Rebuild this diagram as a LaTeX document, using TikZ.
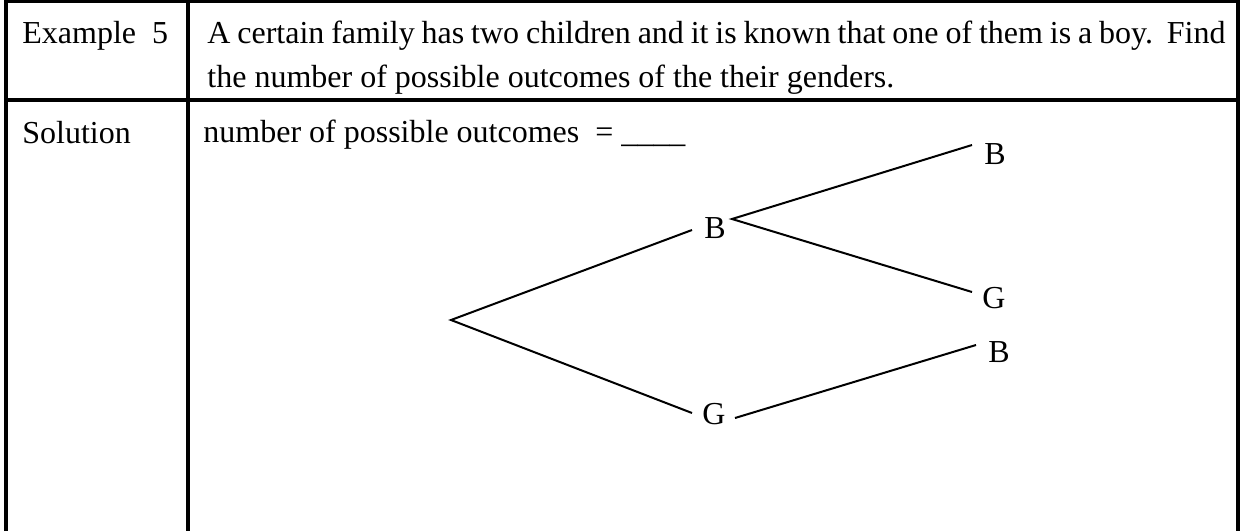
\documentclass[tikz,border=0pt]{standalone}
\usepackage{fontspec}
\setmainfont{Liberation Serif}
\usetikzlibrary{calc}
\begin{document}
\begin{tikzpicture}[x=0.5pt,y=-0.5pt,
  every node/.style={font=\fontsize{16}{19}\selectfont, inner sep=0pt},
  txt/.style={anchor=base west},
  lbl/.style={anchor=center},
  rule/.style={line width=1.75pt},
  branch/.style={line width=1pt}]
\useasboundingbox (0,0) rectangle (1244,531);
% table rules
\draw[rule] (6,531) -- (6,1.5) -- (1238,1.5) -- (1238,531);
\draw[rule] (188,0) -- (188,531);
\draw[rule] (6,100) -- (1238,100);
% texts
\node[txt] (ex) at (22,43) {Example\ \ 5};
\node[txt] (q1) at (207,43) {\makebox[509pt][s]{A certain family has two children and it is known that one of them is a boy.\ \ Find}};
\node[txt] (q2) at (207,87) {the number of possible outcomes of the their genders.};
\node[txt] (sol) at (22,143) {Solution};
\node[txt] (ans) at (203,142) {number of possible outcomes\ \ = \_\_\_\_};
% tree
\coordinate (root) at (451,320);
\node[lbl] (B1) at (715,228) {B};
\node[lbl] (G1) at (714,414) {G};
\node[lbl] (BB) at (995,154) {B};
\node[lbl] (BG) at (994,298) {G};
\node[lbl] (GB) at (999,352) {B};
\draw[branch] ($(B1)+(-23,2)$) -- (root) -- ($(G1)+(-22,-1)$);
\draw[branch] ($(BB)+(-23,-9)$) -- ($(B1)+(17,-9)$) -- ($(BG)+(-22,-6)$);
\draw[branch] ($(G1)+(21,4)$) -- ($(GB)+(-23,-7)$);
\end{tikzpicture}
\end{document}
